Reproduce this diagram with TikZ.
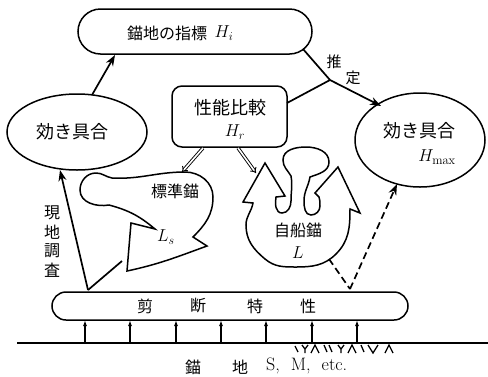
\documentclass[tikz,border=0pt]{standalone}
\usepackage{fontspec}
\newfontfamily\jp{Noto Sans CJK JP}
\usetikzlibrary{arrows.meta,shapes.geometric,shapes.misc}
\begin{document}
\begin{tikzpicture}[x=1pt,y=-1pt,
  line/.style={line width=1.7pt},
  box/.style={draw, line width=1.5pt, inner sep=0pt},
  jtext/.style={font=\jp\fontsize{16}{16}\selectfont, inner sep=0pt},
  jbig/.style={font=\jp\fontsize{18}{18}\selectfont, inner sep=0pt},
  jsmall/.style={font=\jp\fontsize{15}{15}\selectfont, inner sep=0pt},
  mtext/.style={font=\fontsize{18}{18}\selectfont, inner sep=0pt},
  tip/.style={-{Stealth[length=11pt,width=8pt]}},
  dbl/.style={line width=0.9pt, double, double distance=1.6pt, -{Implies}},
  outline/.style={draw, line width=1.5pt, line join=miter}
]
\useasboundingbox (0,0) rectangle (488,376);

% ---- top index box
\node[box, rounded rectangle, minimum width=234pt, minimum height=45pt] (Hi) at (195,31.5) {};
\node[jtext] (HiT) at (167,33) {錨地の指標};
\node[mtext] (HiM) at (224,33) {$H_i$};

% ---- efficiency ellipses
\node[box, ellipse, minimum width=140pt, minimum height=76pt] (effL) at (77,132) {};
\node[jbig] (effLT) at (72,132) {効き具合};
\node[box, ellipse, minimum width=130pt, minimum height=94pt] (effR) at (420,140) {};
\node[jbig] (effRT) at (419,131) {効き具合};
\node[mtext] (effRM) at (437,157) {$H_{\max}$};

% ---- performance comparison box
\node[box, rounded corners=10pt, minimum width=115pt, minimum height=61pt] (Hr) at (229.5,116.5) {};
\node[jbig] (HrT) at (230,108) {性能比較};
\node[mtext] (HrM) at (235,132) {$H_r$};

% ---- shear characteristic box
\node[box, rounded rectangle, minimum width=356pt, minimum height=28pt] (shear) at (230,306) {};
\node[jtext] (sh1) at (145,306) {剪};
\node[jtext] (sh2) at (198,306) {断};
\node[jtext] (sh3) at (255,306) {特};
\node[jtext] (sh4) at (308,306) {性};

% ---- standard anchor
\draw[outline] (112,178) to[out=-3,in=180] (185,172) to[out=0,in=90] (213,197)
  to[out=-90,in=45] (193,237) -- (207,246) to[out=200,in=12] (127,271)
  -- (131,223) -- (155,229) to[out=140,in=-15] (109,205)
  to[out=190,in=-90] (80,190) to[out=90,in=180] (96,173) to[out=0,in=170] cycle;
\node[jtext] (LsT) at (175,191) {標準錨};
\node[mtext] (LsM) at (166,237) {$L_s$};

% ---- own ship anchor
\draw[outline] (291,176) to[out=120,in=-90] (283,160) to[out=90,in=180] (306,147)
  to[out=0,in=90] (329,162) to[out=-90,in=20] (310,177)
  to[out=-100,in=90] (304,201) to[out=-90,in=180] (311,215) to[out=0,in=-90] (320,206)
  to[out=90,in=-70] (319,197) -- (315,193) -- (338,167) -- (360,213) -- (350,209)
  to[out=-90,in=45] (336,254) to[out=-135,in=0] (296,267) to[out=180,in=-40] (265,259)
  to[out=140,in=-90] (246,225) to[out=90,in=-100] (253,203)
  -- (243,202) -- (265,163) -- (285,196) -- (276,197)
  to[out=-100,in=180] (282,213) to[out=0,in=-90] (291,201) to[out=90,in=-80] cycle;
\node[jtext] (LT) at (298,230) {自船錨};
\node[mtext] (LM) at (298,253) {$L$};

% ---- ground and its arrows
\coordinate (gL) at (17,343);
\coordinate (gR) at (488,343);
\draw[line width=1.5pt] (gL) -- (gR);
\foreach \x [count=\i] in {85,130,176,221,266,312,357} {
  \coordinate (g\i) at (\x,343);
  \coordinate (s\i) at (\x,320);
  \draw[line width=1.3pt, -{Latex[length=6pt,width=4pt]}] (g\i) -- (s\i);
}
% soil hatching
\draw[line width=1.3pt]
  (295,346) -- (298,352)
  (302,345) -- (305,349) -- (308,345) (305,349) -- (305,353)
  (311,353) -- (315,345) -- (319,353)
  (324,345) -- (327,352) (329,345) -- (332,352)
  (338,345) -- (341,349) -- (344,345) (341,349) -- (341,353)
  (348,353) -- (352,345) -- (356,353)
  (361,345) -- (364,352)
  (368,345) -- (373,353) -- (378,345)
  (385,353) -- (389,345) -- (393,353);
\node[jtext] (gr1) at (193,367) {錨};
\node[jtext] (gr2) at (240,367) {地};
\node[font=\fontsize{18}{18}\selectfont, inner sep=0pt, anchor=west] (gr3) at (266,366) {S,\hspace{11pt}M,\hspace{11pt}etc.};

% ---- estimation junction
\coordinate (j) at (330,80);
\coordinate (hiOut) at (303,49);
\coordinate (hrOut) at (287,103);
\coordinate (hmaxIn) at (381,106);
\draw[line] (hiOut) -- (j);
\draw[line] (hrOut) -- (j);
\draw[line, tip] (j) -- (hmaxIn);
\node[jsmall] (est1) at (334,62) {推};
\node[jsmall] (est2) at (353,78) {定};

% ---- efficiency to index
\coordinate (eTop) at (92,95);
\coordinate (hiIn) at (115,55);
\draw[line, tip] (eTop) -- (hiIn);

% ---- field survey
\coordinate (sv) at (88,290);
\coordinate (effLbot) at (60,170);
\coordinate (lsEnd) at (122,261);
\draw[line, tip] (sv) -- (effLbot);
\draw[line] (sv) -- (lsEnd);
\foreach \c/\y [count=\i] in {現/213,地/232,調/251,査/270}
  \node[jtext] (sv\i) at (52,\y) {\c};

% ---- dashed estimate of own anchor
\coordinate (dv) at (350,289);
\coordinate (lEnd) at (329,259);
\coordinate (hmaxBot) at (397,184);
\draw[line, dash pattern=on 7pt off 4pt] (lEnd) -- (dv);
\draw[line, dash pattern=on 7pt off 4pt, tip] (dv) -- (hmaxBot);

% ---- comparison arrows
\coordinate (hrA) at (203,148);
\coordinate (lsIn) at (182,172);
\coordinate (hrB) at (238,148);
\coordinate (lIn) at (256,173);
\draw[dbl] (hrA) -- (lsIn);
\draw[dbl] (hrB) -- (lIn);
\end{tikzpicture}
\end{document}
